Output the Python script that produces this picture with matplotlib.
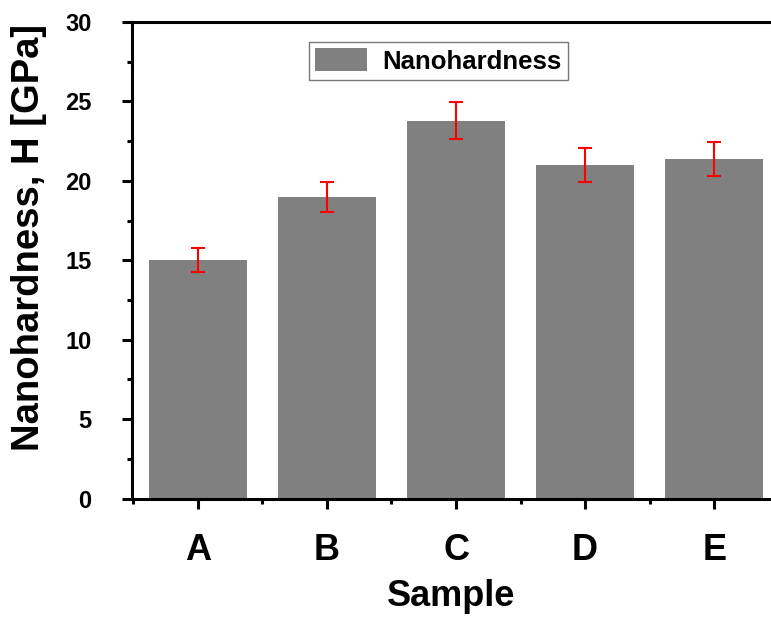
import matplotlib
matplotlib.use("Agg")
import matplotlib.pyplot as plt
from matplotlib.ticker import MultipleLocator, FixedLocator

plt.rcParams['font.family'] = ['Liberation Sans', 'DejaVu Sans']
plt.rcParams['font.weight'] = 'bold'

samples = ["A", "B", "C", "D", "E"]
hardness = [15.0, 19.0, 23.8, 21.0, 21.4]
hardness_err = [0.75, 0.95, 1.18, 1.07, 1.07]

fig = plt.figure(figsize=(7.71, 6.17), dpi=100)
ax = fig.add_axes([0.1712, 0.192, 0.8288, 0.7723])

x = list(range(len(samples)))
ax.bar(x, hardness, width=0.76, color='#808080', label='Nanohardness', zorder=2)
ax.errorbar(x, hardness, yerr=hardness_err, fmt='none', ecolor='red',
            elinewidth=1.5, capsize=5, capthick=1.5, zorder=3)

ax.set_xlim(-0.51, 4.44)
ax.set_ylim(0, 30)

ax.set_xticks(x)
ax.set_xticklabels(samples)
ax.xaxis.set_minor_locator(FixedLocator([i + 0.5 for i in x[:-1]] + [-0.5]))
ax.yaxis.set_major_locator(MultipleLocator(5))
ax.yaxis.set_minor_locator(MultipleLocator(2.5))

ax.tick_params(axis='both', which='major', direction='out', length=7, width=2.2)
ax.tick_params(axis='both', which='minor', direction='out', length=3.5, width=2.2)
ax.tick_params(axis='y', which='major', labelsize=17, pad=22)
ax.tick_params(axis='x', which='major', labelsize=26, pad=18)

for side in ['left', 'bottom', 'top']:
    ax.spines[side].set_linewidth(2.2)
ax.spines['right'].set_visible(False)

ax.set_xlabel("Sample", fontsize=26, fontweight='bold', labelpad=8)
ax.set_ylabel("Nanohardness, H [GPa]", fontsize=27.5, fontweight='bold')
ax.yaxis.set_label_coords(-0.133, 0.548)

leg = ax.legend(loc='upper left', bbox_to_anchor=(0.277, 0.958), borderaxespad=0,
                fontsize=18.5, frameon=True, fancybox=False, borderpad=0.25,
                handlelength=2.0, handleheight=1.0, handletextpad=0.6)
leg.get_frame().set_edgecolor('#555555')
leg.get_frame().set_linewidth(1.0)

fig.savefig("out.png", dpi=100)
